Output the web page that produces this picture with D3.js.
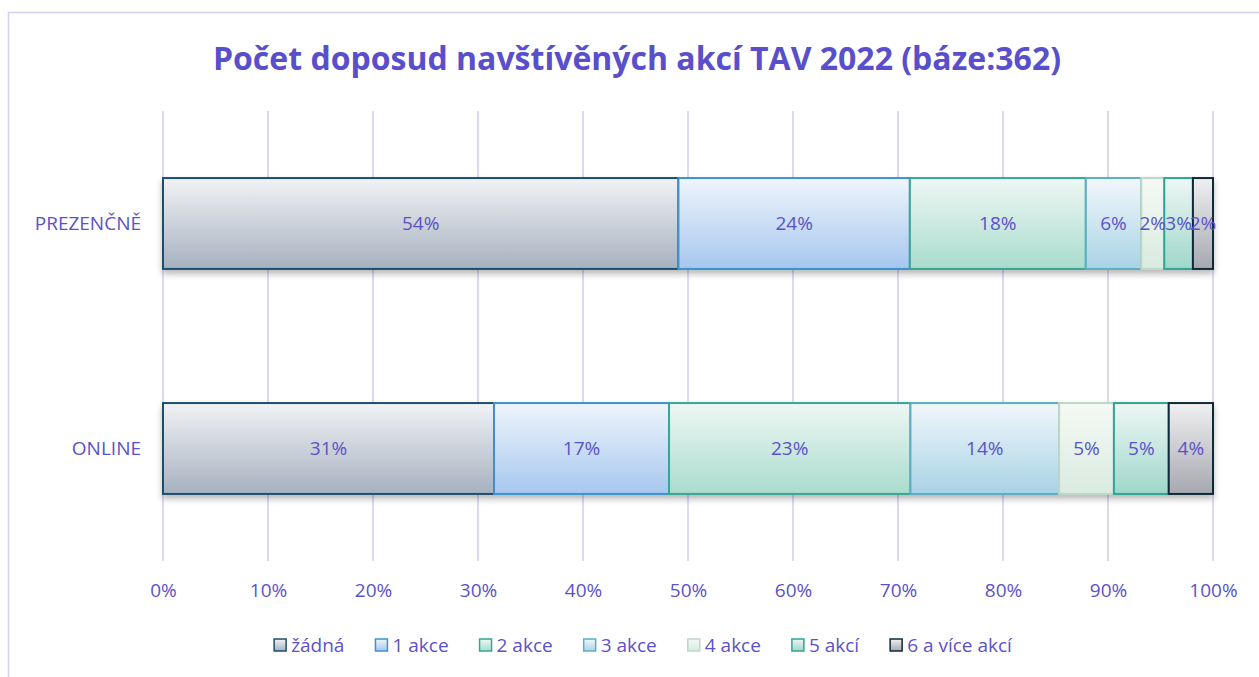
<!DOCTYPE html>
<html>
<head>
<meta charset="utf-8">
<script src="https://cdn.jsdelivr.net/npm/d3@7"></script>
<style>
  body { margin: 0; background: #fff; }
  svg { display: block; font-family: "Open Sans", "Noto Sans", sans-serif; }
</style>
</head>
<body>
<div id="chart"></div>
<script>
const categories = ["PREZENČNĚ", "ONLINE"];
const seriesNames = ["žádná", "1 akce", "2 akce", "3 akce", "4 akce", "5 akcí", "6 a více akcí"];
// shares; labels show the rounded numbers
const prezencne = [53.9, 24.2, 18.4, 5.8, 2.4, 3.0, 2.1];
const online = [31.4, 16.6, 22.9, 14.1, 5.2, 5.2, 4.2];
const tickValues = [0, 0.1, 0.2, 0.3, 0.4, 0.5, 0.6, 0.7, 0.8, 0.9, 1];

// top colour, bottom colour, stroke
const fills = [
  ["#f1f2f5", "#a6b1bf", "#1d4f6e"],
  ["#eff5fc", "#a6c7ee", "#3b93cf"],
  ["#eef7f4", "#a9dccd", "#36a796"],
  ["#f1f7fb", "#a9d3e6", "#5aafc6"],
  ["#f5f9f5", "#d9ebdf", "#bed7c6"],
  ["#eef7f5", "#9fd7ca", "#2ea696"],
  ["#f0f0f1", "#a6a8b0", "#0f2a3b"]
];

const w = 1259;
const h = 677;
const textColor = "#5b52c8";

const rows = categories.map((c, i) => {
  const vals = i === 0 ? prezencne : online;
  const o = { cat: c };
  seriesNames.forEach((s, j) => (o[s] = vals[j]));
  return o;
});

const stacked = d3.stack().keys(seriesNames).offset(d3.stackOffsetExpand)(rows);

const svg = d3.select("#chart").append("svg").attr("width", w).attr("height", h);
const defs = svg.append("defs");

fills.forEach((f, i) => {
  const g = defs.append("linearGradient")
    .attr("id", "grad" + i)
    .attr("x1", 0).attr("y1", 0).attr("x2", 0).attr("y2", 1);
  g.append("stop").attr("offset", "0%").attr("stop-color", f[0]);
  g.append("stop").attr("offset", "100%").attr("stop-color", f[1]);
});

const shadow = defs.append("filter").attr("id", "shadow")
  .attr("x", "-5%").attr("y", "-20%").attr("width", "110%").attr("height", "150%");
shadow.append("feDropShadow")
  .attr("dx", 0).attr("dy", 4).attr("stdDeviation", 3)
  .attr("flood-color", "#000").attr("flood-opacity", 0.28);

// chart area border
svg.append("rect")
  .attr("x", 8.5).attr("y", 12.5)
  .attr("width", w + 20).attr("height", h + 20)
  .attr("fill", "none").attr("stroke", "#d4d0f2").attr("stroke-width", 1.5);

svg.append("text")
  .attr("x", 637).attr("y", 70)
  .attr("text-anchor", "middle")
  .attr("fill", "#5a4fcb")
  .style("font-size", "32px").style("font-weight", "bold")
  .text("Počet doposud navštívěných akcí TAV 2022 (báze:362)");

const xScale = d3.scaleLinear().domain([0, 1]).range([163, 1213]);
const yScale = d3.scaleBand().domain(categories).range([111, 561])
  .paddingInner(0.596).paddingOuter(0.298);

// gridlines
svg.append("g")
  .selectAll("line")
  .data(tickValues)
  .enter()
  .append("line")
  .attr("x1", (d) => xScale(d)).attr("x2", (d) => xScale(d))
  .attr("y1", 111).attr("y2", 561)
  .attr("stroke", "#d2cdf0").attr("stroke-width", 1.5);

const xAxis = d3.axisBottom(xScale).tickValues(tickValues)
  .tickFormat(d3.format(".0%")).tickSize(0).tickPadding(23);
const xg = svg.append("g").attr("transform", "translate(0,561)").call(xAxis);
xg.select(".domain").remove();
xg.selectAll("text").attr("fill", textColor).style("font-size", "19px")
  .style("font-family", "'Open Sans', 'Noto Sans', sans-serif");

const yAxis = d3.axisLeft(yScale).tickSize(0).tickPadding(22);
const yg = svg.append("g").attr("transform", "translate(163,0)").call(yAxis);
yg.select(".domain").remove();
yg.selectAll("text").attr("fill", textColor).style("font-size", "19px")
  .style("font-family", "'Open Sans', 'Noto Sans', sans-serif");

// bars
const layers = svg.append("g").attr("filter", "url(#shadow)")
  .selectAll("g")
  .data(stacked)
  .enter()
  .append("g");

layers.selectAll("rect")
  .data((d) => d.map((p) => ({ p: p, k: d.index })))
  .enter()
  .append("rect")
  .attr("x", (d) => xScale(d.p[0]))
  .attr("y", (d) => yScale(d.p.data.cat))
  .attr("width", (d) => xScale(d.p[1]) - xScale(d.p[0]))
  .attr("height", yScale.bandwidth())
  .attr("fill", (d) => "url(#grad" + d.k + ")")
  .attr("stroke", (d) => fills[d.k][2])
  .attr("stroke-width", 2);

// data labels
const labels = svg.append("g");
stacked.forEach((layer, k) => {
  labels.selectAll(null)
    .data(layer)
    .enter()
    .append("text")
    .attr("x", (d) => xScale((d[0] + d[1]) / 2))
    .attr("y", (d) => yScale(d.data.cat) + yScale.bandwidth() / 2)
    .attr("dy", "0.35em")
    .attr("text-anchor", "middle")
    .attr("fill", textColor)
    .style("font-size", "19px")
    .text((d) => Math.round(d.data[seriesNames[k]]) + "%");
});

// legend, centred under the plot
const legend = svg.append("g").attr("transform", "translate(0,645)");
let lx = 0;
const items = [];
seriesNames.forEach((s, i) => {
  const item = legend.append("g");
  item.append("rect")
    .attr("x", 0).attr("y", -6).attr("width", 12).attr("height", 12)
    .attr("fill", "url(#grad" + i + ")")
    .attr("stroke", fills[i][2]).attr("stroke-width", 1.5);
  const t = item.append("text")
    .attr("x", 17).attr("dy", "0.35em")
    .attr("fill", textColor)
    .style("font-size", "19px")
    .text(s);
  items.push({ g: item, x: lx });
  lx += 17 + t.node().getComputedTextLength() + 31;
});
const legendWidth = lx - 31;
const startX = 643 - legendWidth / 2;
items.forEach((it) => it.g.attr("transform", "translate(" + (startX + it.x) + ",0)"));
</script>
</body>
</html>
